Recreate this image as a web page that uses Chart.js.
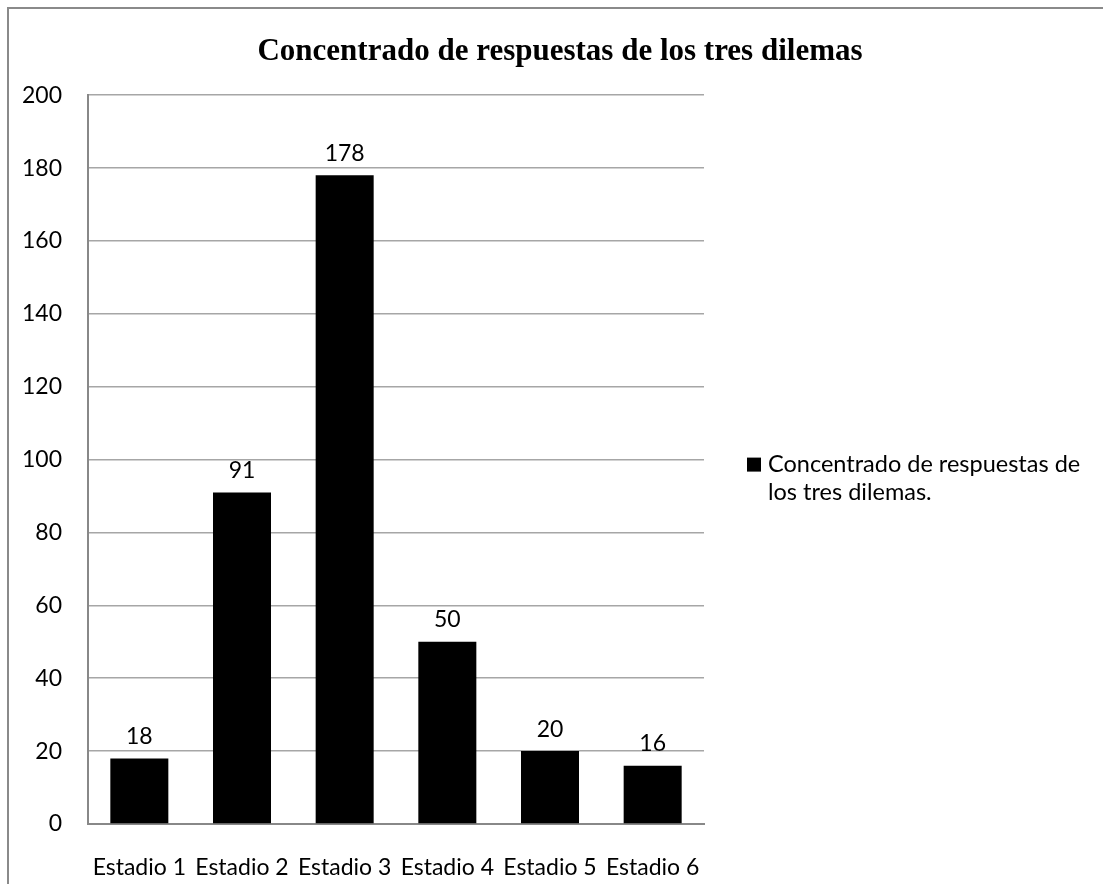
<!DOCTYPE html>
<html>
<head>
<meta charset="utf-8">
<script src="https://cdn.jsdelivr.net/npm/chart.js@4.4.0/dist/chart.umd.min.js"></script>
<style>
  html, body { margin: 0; padding: 0; background: #fff; overflow: hidden; }
  #wrap { position: relative; width: 1103px; height: 884px; overflow: hidden; }
  .hline { position: absolute; left: 7px; top: 7px; width: 1096px; height: 2px; background: #8a8a8a; }
  .vline { position: absolute; left: 7px; top: 7px; width: 2px; height: 877px; background: #8a8a8a; }
  #box { position: absolute; left: 0; top: 0; width: 1120px; height: 884px; }
</style>
</head>
<body>
<div id="wrap">
  <div class="hline"></div>
  <div class="vline"></div>
  <div id="box"><canvas id="chart"></canvas></div>
</div>
<script>
const categories = ['Estadio 1', 'Estadio 2', 'Estadio 3', 'Estadio 4', 'Estadio 5', 'Estadio 6'];
const values = [18, 91, 178, 50, 20, 16];
const seriesName = 'Concentrado de respuestas de los tres dilemas.';
const legendLines = ['Concentrado de respuestas de', 'los tres dilemas.'];
const chartTitle = 'Concentrado de respuestas de los tres dilemas';
const yTicks = [0, 20, 40, 60, 80, 100, 120, 140, 160, 180, 200];

const sansFont = 'Lato, "Open Sans", sans-serif';

// value labels above the bars
const valueLabels = {
  id: 'valueLabels',
  afterDatasetsDraw(chart) {
    const ctx = chart.ctx;
    const meta = chart.getDatasetMeta(0);
    ctx.save();
    ctx.fillStyle = '#000';
    ctx.font = '23px ' + sansFont;
    ctx.textAlign = 'center';
    ctx.textBaseline = 'middle';
    meta.data.forEach((bar, i) => {
      ctx.fillText(String(values[i]), bar.x, bar.y - 22);
    });
    ctx.restore();
  }
};

// legend on the right, wrapped on two lines
const sideLegend = {
  id: 'sideLegend',
  afterDraw(chart) {
    const ctx = chart.ctx;
    const area = chart.chartArea;
    const x = area.right + 43;
    const y = (area.top + area.bottom) / 2 + 5;
    ctx.save();
    ctx.fillStyle = chart.data.datasets[0].backgroundColor;
    ctx.fillRect(x, y - 7, 14, 14);
    ctx.fillStyle = '#000';
    ctx.font = '23.5px ' + sansFont;
    ctx.textAlign = 'left';
    ctx.textBaseline = 'middle';
    legendLines.forEach((line, i) => {
      ctx.fillText(line, x + 21, y + i * 28);
    });
    ctx.restore();
  }
};

new Chart(document.getElementById('chart'), {
  type: 'bar',
  data: {
    labels: categories,
    datasets: [{
      label: seriesName,
      data: values,
      backgroundColor: '#000',
      borderWidth: 0,
      categoryPercentage: 1,
      barPercentage: 0.565
    }]
  },
  options: {
    responsive: true,
    maintainAspectRatio: false,
    animation: false,
    layout: { padding: 0 },
    plugins: {
      legend: { display: false },
      tooltip: { enabled: false },
      title: {
        display: true,
        text: chartTitle,
        color: '#000',
        font: { family: '"Liberation Serif", "Times New Roman", serif', size: 31, weight: 'bold' },
        padding: { top: 33, bottom: 25 }
      }
    },
    scales: {
      x: {
        grid: { display: false },
        border: { display: true, color: '#888', width: 2 },
        ticks: {
          color: '#000',
          font: { family: sansFont, size: 23 },
          padding: 22,
          maxRotation: 0,
          autoSkip: false
        },
        afterFit(scale) { scale.height = 60; }
      },
      y: {
        min: 0,
        max: 200,
        afterBuildTicks(scale) { scale.ticks = yTicks.map(v => ({ value: v })); },
        grid: { color: '#a6a6a6', lineWidth: 1.5, drawTicks: false },
        border: { display: true, color: '#888', width: 2 },
        ticks: {
          color: '#000',
          font: { family: sansFont, size: 23 },
          padding: 26
        },
        afterFit(scale) { scale.width = 88; }
      },
      yr: {
        position: 'right',
        type: 'linear',
        display: true,
        grid: { display: false, drawTicks: false },
        border: { display: false },
        ticks: { display: false },
        afterFit(scale) { scale.width = 416; }
      }
    }
  },
  plugins: [valueLabels, sideLegend]
});
</script>
</body>
</html>
